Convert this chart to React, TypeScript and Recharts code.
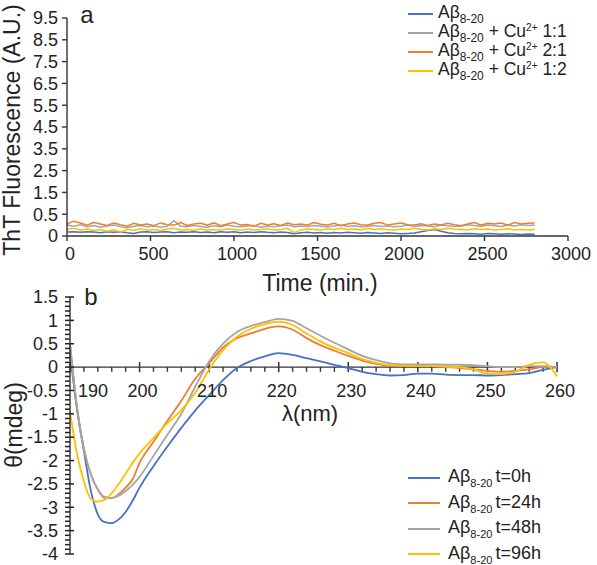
import React from "react";
import { LineChart, Line, XAxis, YAxis, Legend, ReferenceLine } from "recharts";

const FONT = "'Liberation Sans', Arial, Helvetica, sans-serif";
const AXIS = "#333";
const TEXT = "#222";

const BLUE = "#4472C4";
const ORANGE = "#ED7D31";
const GRAY = "#A5A5A5";
const YELLOW = "#FFC000";

// ---- panel a: ThT fluorescence (values in axis tick units) ----
const TIME_STEP = 40;
const thtBlue = [
  0.18, 0.2, 0.17, 0.2, 0.18, 0.15, 0.2, 0.17, 0.19, 0.15,
  0.12, 0.18, 0.2, 0.16, 0.18, 0.2, 0.15, 0.18, 0.17, 0.2,
  0.16, 0.18, 0.15, 0.19, 0.17, 0.2, 0.15, 0.18, 0.16, 0.2,
  0.17, 0.15, 0.18, 0.16, 0.1, 0.15, 0.17, 0.14, 0.16, 0.13,
  0.16, 0.14, 0.17, 0.15, 0.13, 0.16, 0.14, 0.12, 0.15, 0.13,
  0.1, 0.12, 0.14, 0.2, 0.25, 0.3, 0.22, 0.15, 0.12, 0.1,
  0.12, 0.1, 0.08, 0.11, 0.1, 0.08, 0.1, 0.09, 0.07, 0.09,
  0.08,
];
const thtGray = [
  0.5, 0.45, 0.52, 0.42, 0.48, 0.4, 0.46, 0.5, 0.43, 0.38,
  0.45, 0.48, 0.42, 0.46, 0.4, 0.44, 0.7, 0.45, 0.42, 0.48,
  0.44, 0.4, 0.47, 0.43, 0.5, 0.45, 0.42, 0.46, 0.48, 0.4,
  0.45, 0.43, 0.47, 0.5, 0.42, 0.46, 0.44, 0.48, 0.45, 0.42,
  0.46, 0.5, 0.44, 0.47, 0.42, 0.45, 0.48, 0.44, 0.46, 0.42,
  0.45, 0.5, 0.44, 0.48, 0.46, 0.42, 0.5, 0.47, 0.44, 0.46,
  0.52, 0.48, 0.45, 0.5, 0.47, 0.44, 0.5, 0.46, 0.52, 0.48,
  0.5,
];
const thtOrange = [
  0.55, 0.68, 0.6, 0.5, 0.62, 0.55, 0.48, 0.6, 0.52, 0.45,
  0.58, 0.5, 0.55, 0.47, 0.6, 0.52, 0.5, 0.62, 0.48, 0.55,
  0.58, 0.5, 0.6, 0.47, 0.55, 0.62, 0.5, 0.53, 0.45, 0.58,
  0.5, 0.56, 0.48, 0.6, 0.52, 0.55, 0.5, 0.62, 0.54, 0.5,
  0.58, 0.47, 0.55, 0.6, 0.52, 0.5, 0.58, 0.62, 0.5, 0.55,
  0.6, 0.52, 0.5, 0.56, 0.48, 0.55, 0.5, 0.58, 0.52, 0.47,
  0.55, 0.62, 0.5, 0.58, 0.55, 0.6, 0.5, 0.62, 0.55, 0.58,
  0.6,
];
const thtYellow = [
  0.3, 0.35, 0.28, 0.32, 0.25, 0.3, 0.22, 0.28, 0.18, 0.3,
  0.26, 0.33, 0.28, 0.3, 0.25, 0.32, 0.35, 0.28, 0.3, 0.26,
  0.32, 0.28, 0.3, 0.27, 0.33, 0.3, 0.26, 0.32, 0.28, 0.3,
  0.33, 0.27, 0.3, 0.35, 0.15, 0.28, 0.32, 0.3, 0.27, 0.33,
  0.3, 0.35, 0.3, 0.32, 0.28, 0.35, 0.3, 0.33, 0.3, 0.28,
  0.32, 0.3, 0.35, 0.3, 0.28, 0.33, 0.3, 0.35, 0.32, 0.3,
  0.28, 0.33, 0.3, 0.32, 0.28, 0.3, 0.33, 0.28, 0.3, 0.27,
  0.3,
];
const thtTicks = [0, 1, 2, 3, 4, 5, 6, 7, 8, 9, 10];
const thtTickLabels = ["0", "0.5", "1.5", "2.5", "3.5", "4.5", "5.5", "6.5", "7.5", "8.5", "9.5"];
const timeTicks = [0, 500, 1000, 1500, 2000, 2500, 3000];

const thtSeries = [
  { key: "blue", color: BLUE, ratio: "" },
  { key: "gray", color: GRAY, ratio: "1:1" },
  { key: "orange", color: ORANGE, ratio: "2:1" },
  { key: "yellow", color: YELLOW, ratio: "1:2" },
];

const thtData = thtBlue.map((b, i) => ({
  t: i * TIME_STEP,
  blue: b,
  gray: thtGray[i],
  orange: thtOrange[i],
  yellow: thtYellow[i],
}));

// ---- panel b: CD spectra ----
const wavelength = [
  190, 191, 192, 193, 194, 195, 196, 197, 198, 199, 200,
  202, 204, 206, 208, 210, 212, 214, 216, 218, 220,
  222, 224, 226, 228, 230, 232, 234, 236, 238, 240,
  242, 244, 246, 248, 250, 252, 254, 256, 258, 260,
];
const cd0h = [
  0.3, -0.9, -1.8, -2.65, -3.15, -3.32, -3.34, -3.26, -3.1, -2.86, -2.58,
  -2.12, -1.7, -1.3, -0.93, -0.6, -0.28, -0.02, 0.13, 0.23, 0.3,
  0.26, 0.19, 0.12, 0.05, -0.02, -0.1, -0.15, -0.18, -0.17, -0.14,
  -0.14, -0.16, -0.17, -0.17, -0.18, -0.17, -0.15, -0.13, -0.06, 0.0,
];
const cd24h = [
  0.5, -0.85, -1.75, -2.3, -2.62, -2.8, -2.8, -2.72, -2.58, -2.4, -2.05,
  -1.6, -1.15, -0.72, -0.25, 0.08, 0.42, 0.62, 0.72, 0.82, 0.87,
  0.8, 0.62, 0.47, 0.35, 0.24, 0.14, 0.07, 0.03, 0.02, 0.02,
  0.02, 0.0, -0.02, -0.05, -0.08, -0.1, -0.08, -0.05, 0.0, 0.0,
];
const cd48h = [
  0.5, -0.85, -1.75, -2.3, -2.62, -2.78, -2.8, -2.75, -2.65, -2.52, -2.35,
  -1.9, -1.45, -1.0, -0.42, 0.12, 0.5, 0.75, 0.88, 0.96, 1.03,
  0.99, 0.83, 0.67, 0.52, 0.38, 0.24, 0.15, 0.08, 0.06, 0.06,
  0.06, 0.05, 0.05, 0.04, 0.02, 0.0, 0.0, 0.02, 0.02, 0.0,
];
const cd96h = [
  -0.95, -1.85, -2.45, -2.82, -2.88, -2.84, -2.7, -2.5, -2.28, -2.05, -1.85,
  -1.52, -1.2, -0.92, -0.55, -0.05, 0.36, 0.65, 0.82, 0.92, 0.97,
  0.9, 0.72, 0.55, 0.41, 0.3, 0.17, 0.09, 0.04, 0.03, 0.02,
  0.02, 0.01, 0.0, -0.05, -0.14, -0.15, -0.1, 0.05, 0.1, -0.2,
];
const cdMajorX = [190, 200, 210, 220, 230, 240, 250, 260];
const cdMinorX = [
  192, 194, 196, 198, 202, 204, 206, 208, 212, 214, 216, 218, 222, 224, 226, 228,
  232, 234, 236, 238, 242, 244, 246, 248, 252, 254, 256, 258,
];
const cdYTicks = Array.from({ length: 56 }, (_, i) => Math.round((-4 + i * 0.1) * 10) / 10);

const cdSeries = [
  { key: "h0", color: BLUE, time: "t=0h" },
  { key: "h24", color: ORANGE, time: "t=24h" },
  { key: "h48", color: GRAY, time: "t=48h" },
  { key: "h96", color: YELLOW, time: "t=96h" },
];

const cdData = wavelength.map((w, i) => ({
  wl: w,
  h0: cd0h[i],
  h24: cd24h[i],
  h48: cd48h[i],
  h96: cd96h[i],
}));

const legendLine = (color: string, w: number): React.CSSProperties => ({
  display: "inline-block",
  width: w,
  height: 2,
  background: color,
  marginRight: 5,
});

const ThtLegend = (props: any) => {
  const items = props.payload || [];
  return (
    <div style={{ fontFamily: FONT, color: TEXT }}>
      {items.map((it: any) => {
        const s = thtSeries.find((x) => x.key === it.dataKey);
        return (
          <div key={it.dataKey} style={{ display: "flex", alignItems: "center", height: 19, whiteSpace: "nowrap" }}>
            <span style={legendLine(it.color, 25)} />
            <span style={{ fontSize: 17.5, lineHeight: "19px" }}>
              Aβ<span style={{ fontSize: 12, position: "relative", top: 5 }}>8-20</span>
              {s && s.ratio ? (
                <>
                  {" + Cu"}
                  <span style={{ fontSize: 10, position: "relative", top: -6 }}>2+</span>
                  {" " + s.ratio}
                </>
              ) : null}
            </span>
          </div>
        );
      })}
    </div>
  );
};

const CdLegend = (props: any) => {
  const items = props.payload || [];
  return (
    <div style={{ fontFamily: FONT, color: TEXT }}>
      {items.map((it: any) => {
        const s = cdSeries.find((x) => x.key === it.dataKey);
        return (
          <div key={it.dataKey} style={{ display: "flex", alignItems: "center", height: 25.5, whiteSpace: "nowrap" }}>
            <span style={legendLine(it.color, 32)} />
            <span style={{ fontSize: 18, lineHeight: "25px", marginLeft: 3 }}>
              Aβ<span style={{ fontSize: 11, position: "relative", top: 5, marginRight: 3 }}>8-20</span>
              {s ? s.time : ""}
            </span>
          </div>
        );
      })}
    </div>
  );
};

// y ticks of panel b: minor every 0.1 (outside), labelled majors every 0.5 crossing the axis
const CdYTick = (props: any) => {
  const { x, y, payload } = props;
  const v = payload.value;
  const axisX = x + 12;
  const major = Math.abs(v * 2 - Math.round(v * 2)) < 1e-6;
  return (
    <g>
      <line
        x1={axisX - 5}
        x2={major ? axisX + 4 : axisX}
        y1={y}
        y2={y}
        stroke="#222"
        strokeWidth={1.5}
      />
      {major ? (
        <text x={x} y={y} dy="0.35em" textAnchor="end" fontSize={18} fill={TEXT} fontFamily={FONT}>
          {String(Math.round(v * 10) / 10)}
        </text>
      ) : null}
    </g>
  );
};

const tickStyle = { fontSize: 18, fill: TEXT, fontFamily: FONT };

const App: React.FC = () => {
  return (
    <div style={{ position: "absolute", left: 0, top: 0, width: 597, height: 565, background: "#fff" }}>
      <div style={{ position: "absolute", left: 0, top: 0 }}>
        <LineChart width={597} height={300} data={thtData} margin={{ top: 18, right: 29, left: 0, bottom: 0 }}>
          <XAxis
            type="number"
            dataKey="t"
            domain={[0, 3000]}
            ticks={timeTicks}
            interval={0}
            height={64}
            tickSize={5}
            tickMargin={6}
            tick={{ ...tickStyle, dx: 3 }}
            axisLine={{ stroke: AXIS, strokeWidth: 1.4 }}
            tickLine={{ stroke: AXIS, strokeWidth: 1.4 }}
          />
          <YAxis
            type="number"
            domain={[0, 10]}
            ticks={thtTicks}
            interval={0}
            width={67}
            tickSize={5}
            tickMargin={4}
            tick={tickStyle}
            tickFormatter={(v: number) => thtTickLabels[v] ?? ""}
            axisLine={{ stroke: AXIS, strokeWidth: 1.4 }}
            tickLine={{ stroke: AXIS, strokeWidth: 1.4 }}
          />
          <Legend
            layout="horizontal"
            verticalAlign="middle"
            align="center"
            content={ThtLegend}
            wrapperStyle={{ position: "absolute", left: 408, top: 4, width: "auto", height: "auto" }}
          />
          {thtSeries.map((s) => (
            <Line
              key={s.key}
              dataKey={s.key}
              stroke={s.color}
              strokeWidth={1.5}
              dot={false}
              type="linear"
              isAnimationActive={false}
            />
          ))}
        </LineChart>
      </div>

      <div style={{ position: "absolute", left: 0, top: 280 }}>
        <LineChart width={597} height={285} data={cdData} margin={{ top: 17, right: 40, left: 0, bottom: 11 }}>
          <XAxis type="number" dataKey="wl" domain={[190, 260]} hide />
          <YAxis
            type="number"
            domain={[-4, 1.5]}
            ticks={cdYTicks}
            interval={0}
            width={70}
            tickSize={4}
            tickMargin={8}
            tick={CdYTick}
            axisLine={{ stroke: AXIS, strokeWidth: 1.4 }}
            tickLine={false}
          />
          <ReferenceLine y={0} stroke={AXIS} strokeWidth={1.4} />
          {cdMinorX.map((x) => (
            <ReferenceLine
              key={"m" + x}
              segment={[{ x, y: 0 }, { x, y: -0.1 }]}
              stroke={AXIS}
              strokeWidth={1.4}
            />
          ))}
          {cdMajorX.map((x) => (
            <ReferenceLine
              key={"M" + x}
              segment={[{ x, y: 0.11 }, { x, y: -0.11 }]}
              stroke={AXIS}
              strokeWidth={1.5}
              label={{
                value: String(x),
                position: "bottom",
                offset: 12,
                fontSize: 18,
                fill: TEXT,
                fontFamily: FONT,
                dx: x === 190 ? 23 : 3,
              }}
            />
          ))}
          <Legend
            layout="horizontal"
            verticalAlign="middle"
            align="center"
            content={CdLegend}
            wrapperStyle={{ position: "absolute", left: 408, top: 185, width: "auto", height: "auto" }}
          />
          {cdSeries.map((s) => (
            <Line
              key={s.key}
              dataKey={s.key}
              stroke={s.color}
              strokeWidth={1.8}
              dot={false}
              type="monotone"
              isAnimationActive={false}
            />
          ))}
        </LineChart>
      </div>

      <svg
        width={597}
        height={565}
        style={{ position: "absolute", left: 0, top: 0, pointerEvents: "none" }}
        fontFamily={FONT}
        fill={TEXT}
      >
        <text x={87} y={14} fontSize={24} textAnchor="middle" dominantBaseline="central">a</text>
        <text
          x={12}
          y={130}
          fontSize={23}
          textAnchor="middle"
          dominantBaseline="central"
          transform="rotate(-90 12 130)"
        >
          ThT Fluorescence (A.U.)
        </text>
        <text x={320} y={283} fontSize={23} textAnchor="middle" dominantBaseline="central">Time (min.)</text>
        <text x={91} y={296} fontSize={24} textAnchor="middle" dominantBaseline="central">b</text>
        <text
          x={14}
          y={425}
          fontSize={23}
          textAnchor="middle"
          dominantBaseline="central"
          transform="rotate(-90 14 425)"
        >
          θ(mdeg)
        </text>
        <text x={310} y={413} fontSize={22} textAnchor="middle" dominantBaseline="central">λ(nm)</text>
      </svg>
    </div>
  );
};

export default App;
